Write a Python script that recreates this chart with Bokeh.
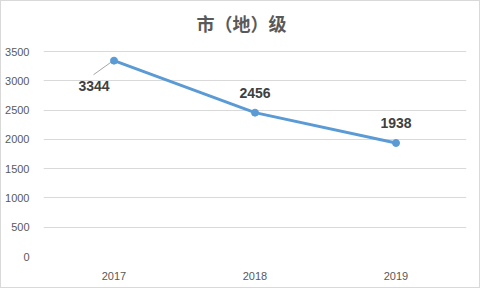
from bokeh.plotting import figure
from bokeh.models import ColumnDataSource, FactorRange, FixedTicker, Range1d
from bokeh.transform import dodge
from bokeh.core.properties import value
from bokeh.embed import file_html
from bokeh.resources import INLINE

years = ["2017", "2018", "2019"]
counts = [3344, 2456, 1938]
y_ticks = [0, 500, 1000, 1500, 2000, 2500, 3000, 3500]
title_text = "市（地）级"

# label placement: first label sits below-left with a leader line, others above
label_dx = [-20, 0, 0]
label_dy = [25, -20, -20]

src = ColumnDataSource(dict(year=years, count=counts, dx=label_dx, dy=label_dy,
                            label=[str(c) for c in counts]))

# frame spans full height above the bottom axis; data area (0..3500) is 205 px of 255 px
frame_h, data_h = 255, 205
y_top = y_ticks[-1] * frame_h / data_h

p = figure(width=480, height=288, x_range=FactorRange(factors=years, range_padding=0),
           y_range=Range1d(0, y_top), output_backend="svg", toolbar_location=None,
           min_border_left=42, min_border_right=15, min_border_top=0, min_border_bottom=33,
           styles={"border": "1px solid #d9d9d9"})

p.outline_line_color = None
p.xgrid.grid_line_color = None
p.ygrid.grid_line_color = "#d9d9d9"
p.ygrid.grid_line_width = 1

p.yaxis.ticker = FixedTicker(ticks=y_ticks)
for ax in (p.xaxis[0], p.yaxis[0]):
    ax.axis_line_color = None
    ax.major_tick_line_color = None
    ax.minor_tick_line_color = None
    ax.major_label_text_font = "Liberation Sans"
    ax.major_label_text_font_size = "11px"
    ax.major_label_text_color = "#595959"
p.yaxis.major_label_standoff = 8
p.xaxis.major_label_standoff = 9

# chart title, drawn as text centred on the whole canvas
tsrc = ColumnDataSource(dict(x=[years[1]], y=[y_ticks[-1]], t=[title_text]))
p.text(x="x", y="y", text="t", source=tsrc, x_offset=-13.5, y_offset=-29,
       text_align="center", text_baseline="middle", text_font=value("Noto Sans CJK SC"),
       text_font_size="18px", text_font_style="bold", text_color="#595959")

# leader line for the first label (derived from first data point)
lead = ColumnDataSource(dict(year=years[:1], y0=[counts[0] - 240], y1=[counts[0] - 25]))
p.segment(x0=dodge("year", -0.145, range=p.x_range), y0="y0",
          x1=dodge("year", -0.02, range=p.x_range), y1="y1",
          source=lead, line_color="#a6a6a6", line_width=1)

p.line(x="year", y="count", source=src, line_color="#5B9BD5", line_width=3)
p.scatter(x="year", y="count", source=src, size=7, fill_color="#5B9BD5",
          line_color="#5B9BD5")

p.text(x="year", y="count", text="label", source=src, x_offset="dx", y_offset="dy",
       text_align="center", text_baseline="middle", text_font=value("Liberation Sans"),
       text_font_size="14px", text_font_style="bold", text_color="#404040")

open("out.html", "w").write(file_html(p, INLINE))
